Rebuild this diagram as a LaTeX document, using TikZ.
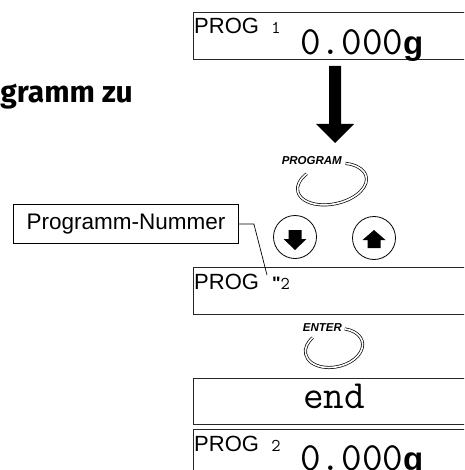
\documentclass[tikz,border=0pt]{standalone}
\usepackage{fontspec}
\setsansfont{Liberation Sans}
\newfontfamily\headfont{Fira Sans}
\newfontfamily\quotefont{Liberation Sans}

\tikzset{
	lcd/.style={draw=black!85, line width=1pt, minimum width=300pt, anchor=north west, inner sep=0pt},
	lcdtag/.style={font=\sffamily\fontsize{22}{22}\selectfont, anchor=base west, inner sep=0pt},
	lcdnum/.style={font=\ttfamily\fontsize{18}{18}\selectfont, anchor=base, inner sep=0pt},
	lcdval/.style={font=\ttfamily\fontsize{40}{40}\selectfont, anchor=base west, inner sep=0pt},
	keyname/.style={font=\sffamily\bfseries\itshape\fontsize{11.5}{11.5}\selectfont, anchor=base east, inner sep=0pt},
	keyring/.style={double, double distance=1.6pt, line width=0.7pt},
	arrowkey/.style={draw, circle, line width=0.8pt, minimum size=43pt, inner sep=0pt},
}

\begin{document}
\begin{tikzpicture}[x=1pt, y=-1pt]
		\useasboundingbox (0,0) rectangle (464,470);
		\clip (0,0) rectangle (464,470);
		\def\gunit{{\sffamily\bfseries\fontsize{33}{33}\selectfont g}}
		% heading, cut off at the left edge
		\node[font=\headfont\bfseries\fontsize{30}{30}\selectfont, anchor=base east, inner sep=0pt] (head) at (133,103) {gramm zu};
		% weighing displays, program 1 and program 2
		\foreach \yy/\nr/\nm in {12/1/a, 429/2/d} {
			\node[lcd, minimum height=47pt] (disp\nm) at (193,\yy) {};
			\node[lcdtag] (tag\nm) at (194,{\yy+22}) {PROG};
			\node[lcdnum] (nr\nm) at (276,{\yy+22}) {\nr};
			\node[lcdval] (val\nm) at (300,{min(\yy+43,470)}) {0.000\gunit};
		}
		% big arrow down to the PROGRAM key
		\fill (329,66) -- (341,66) -- (341,124) -- (354,124) -- (335,143) -- (316,124) -- (329,124) -- cycle;
		% PROGRAM key
		\node[keyname] (kprog) at (342,165) {PROGRAM};
		\draw[keyring, shift={(332,184)}, rotate=12] (-60:35 and 20) arc[start angle=-60, end angle=230, x radius=35, y radius=20];
		% arrow keys
		\node[arrowkey] (kdown) at (295,237) {};
		\node[arrowkey] (kup) at (374,238) {};
		\fill[shift={(kdown.center)}] (-6.5,-7) -- (6.5,-7) -- (6.5,2) -- (11.5,2) -- (0,13) -- (-11.5,2) -- (-6.5,2) -- cycle;
		\fill[shift={(kup.center)}] (-6.5,10) -- (6.5,10) -- (6.5,2) -- (11.5,2) -- (0,-8) -- (-11.5,2) -- (-6.5,2) -- cycle;
		% program number being chosen
		\node[lcd, minimum height=47pt] (dispb) at (193,267) {};
		\node[lcdtag] (tagb) at (194,289) {PROG};
		\node[lcdnum, anchor=base west] (nrb) at (272,289) {{\quotefont\bfseries"}2};
		\node[draw, line width=0.8pt, font=\sffamily\fontsize{22.5}{22.5}\selectfont, minimum width=225pt, minimum height=39pt, inner sep=0pt] (numlabel) at (126,224) {Programm-Nummer};
		\coordinate (numpos) at (267,275);
		\draw[line width=0.7pt] (numlabel.east) -- ++(15,0) -- (numpos);
		% ENTER key
		\node[keyname] (kenter) at (342,331) {ENTER};
		\draw[keyring, shift={(334,348)}, rotate=12] (-60:29 and 19) arc[start angle=-60, end angle=230, x radius=29, y radius=19];
		% end message
		\node[lcd, minimum height=46pt] (dispc) at (193,378) {};
		\node[lcdval, anchor=base] (valc) at (334,408) {end};
	\end{tikzpicture}
\end{document}
